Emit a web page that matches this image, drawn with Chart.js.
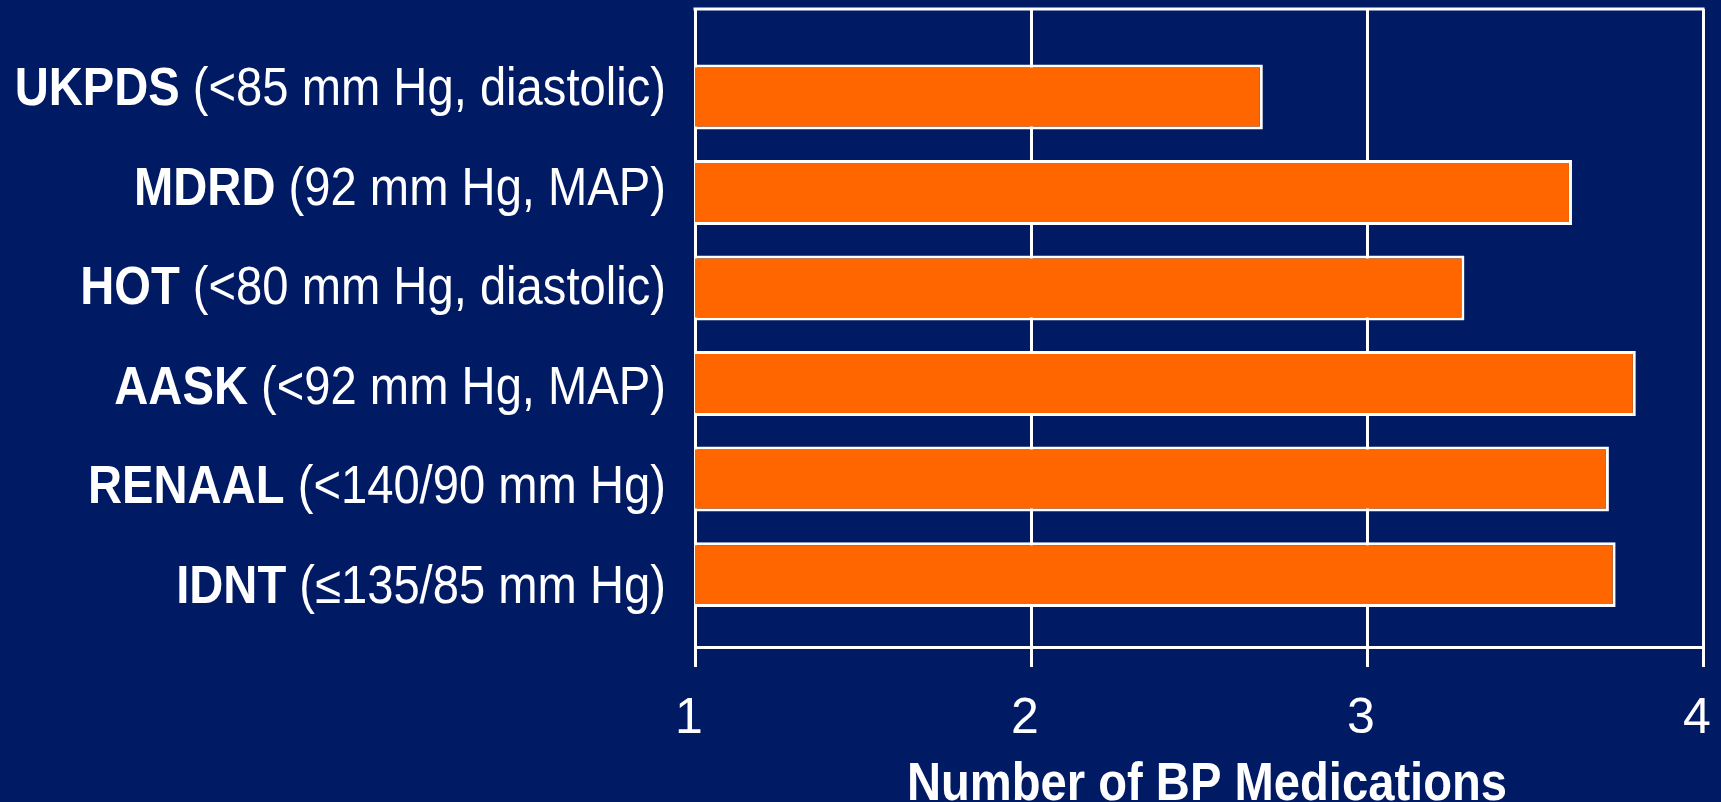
<!DOCTYPE html>
<html>
<head>
<meta charset="utf-8">
<script src="https://cdn.jsdelivr.net/npm/chart.js@4/dist/chart.umd.min.js"></script>
<style>
  html, body { margin: 0; padding: 0; background: #011a64; }
  canvas { display: block; }
</style>
</head>
<body>
<canvas id="chart" width="1721" height="802"></canvas>
<script>
// trial names (bold part) and targets (plain part), top to bottom
var trials = ["UKPDS", "MDRD", "HOT", "AASK", "RENAAL", "IDNT"];
var targets = [" (<85 mm Hg, diastolic)", " (92 mm Hg, MAP)", " (<80 mm Hg, diastolic)",
               " (<92 mm Hg, MAP)", " (<140/90 mm Hg)", " (\u2264135/85 mm Hg)"];
// mean number of BP medications
var medications = [2.69, 3.61, 3.29, 3.80, 3.72, 3.74];
var xTicks = [1, 2, 3, 4];
var xTitle = "Number of BP Medications";

var navy = "#011a64";
var orange = "#ff6600";
var fontFace = '"Liberation Sans", Arial, Helvetica, sans-serif';
var squeeze = 0.89; // the slide font is a bit narrower than Arial

var points = [];
var rows = [];
for (var i = 0; i < medications.length; i++) {
    points.push({x: medications[i], y: i});
    rows.push({value: i});
}

function condensedText(ctx, text, x, y, font, align) {
    ctx.save();
    ctx.translate(x, y);
    ctx.scale(squeeze, 1);
    ctx.font = font;
    ctx.textAlign = align;
    ctx.textBaseline = "alphabetic";
    ctx.fillText(text, 0, 0);
    var w = ctx.measureText(text).width * squeeze;
    ctx.restore();
    return w;
}

var slidePlugin = {
    id: "slide",
    beforeDraw: function(chart) {
	var ctx = chart.ctx;
	ctx.save();
	ctx.fillStyle = navy;
	ctx.fillRect(0, 0, chart.width, chart.height);
	ctx.restore();
    },
    beforeDatasetsDraw: function(chart) {
	// top edge of the frame
	var a = chart.chartArea, ctx = chart.ctx;
	ctx.save();
	ctx.strokeStyle = "#ffffff";
	ctx.lineWidth = 3;
	ctx.beginPath();
	ctx.moveTo(a.left - 1.5, a.top);
	ctx.lineTo(a.right + 1.5, a.top);
	ctx.stroke();
	ctx.restore();
    },
    afterDraw: function(chart) {
	var ctx = chart.ctx;
	var labelScale = chart.scales.yLabels;
	var xs = chart.scales.x;
	var right = chart.chartArea.left - 29;
	ctx.save();
	ctx.fillStyle = "#ffffff";
	for (var i = 0; i < trials.length; i++) {
	    var y = labelScale.getPixelForValue(i) + 19;
	    var w = condensedText(ctx, targets[i], right, y, "53px " + fontFace, "right");
	    condensedText(ctx, trials[i], right - w, y, "bold 53px " + fontFace, "right");
	}
	condensedText(ctx, xTitle, (xs.left + xs.right) / 2 + 8, 800, "bold 53px " + fontFace, "center");
	ctx.restore();
    }
};

var chart = new Chart(document.getElementById("chart").getContext("2d"), {
    type: "bar",
    data: {
	datasets: [{
	    data: points,
	    backgroundColor: orange,
	    borderColor: "#ffffff",
	    borderWidth: 3,
	    borderSkipped: false,
	    categoryPercentage: 1,
	    barPercentage: 0.68
	}]
    },
    options: {
	indexAxis: "y",
	responsive: false,
	animation: false,
	layout: {padding: {top: 9, right: 18, left: 0, bottom: 0}},
	plugins: {legend: {display: false}, tooltip: {enabled: false}},
	scales: {
	    x: {
		type: "linear",
		min: xTicks[0],
		max: xTicks[xTicks.length - 1],
		afterBuildTicks: function(scale) {
		    scale.ticks = xTicks.map(function(v) { return {value: v}; });
		},
		afterFit: function(scale) {
		    scale.height = 155;
		    scale.paddingLeft = 0;
		    scale.paddingRight = 0;
		},
		grid: {color: "#ffffff", lineWidth: 3, drawTicks: true, tickLength: 20,
		       tickColor: "#ffffff", tickWidth: 3},
		border: {display: true, color: "#ffffff", width: 3},
		ticks: {color: "#ffffff", font: {family: fontFace, size: 50, lineHeight: 1},
			padding: 27, labelOffset: -6, maxRotation: 0}
	    },
	    y: {
		type: "linear",
		reverse: true,
		offset: false,
		min: -0.922,
		max: 5.758,
		afterBuildTicks: function(scale) { scale.ticks = rows.slice(); },
		afterFit: function(scale) { scale.width = 695; },
		grid: {display: false, offset: false},
		border: {display: true, color: "#ffffff", width: 3},
		ticks: {display: false}
	    },
	    yLabels: {
		type: "linear",
		display: false,
		reverse: true,
		offset: false,
		min: -0.773,
		max: 5.633,
		grid: {offset: false}
	    }
	}
    },
    plugins: [slidePlugin]
});
</script>
</body>
</html>
